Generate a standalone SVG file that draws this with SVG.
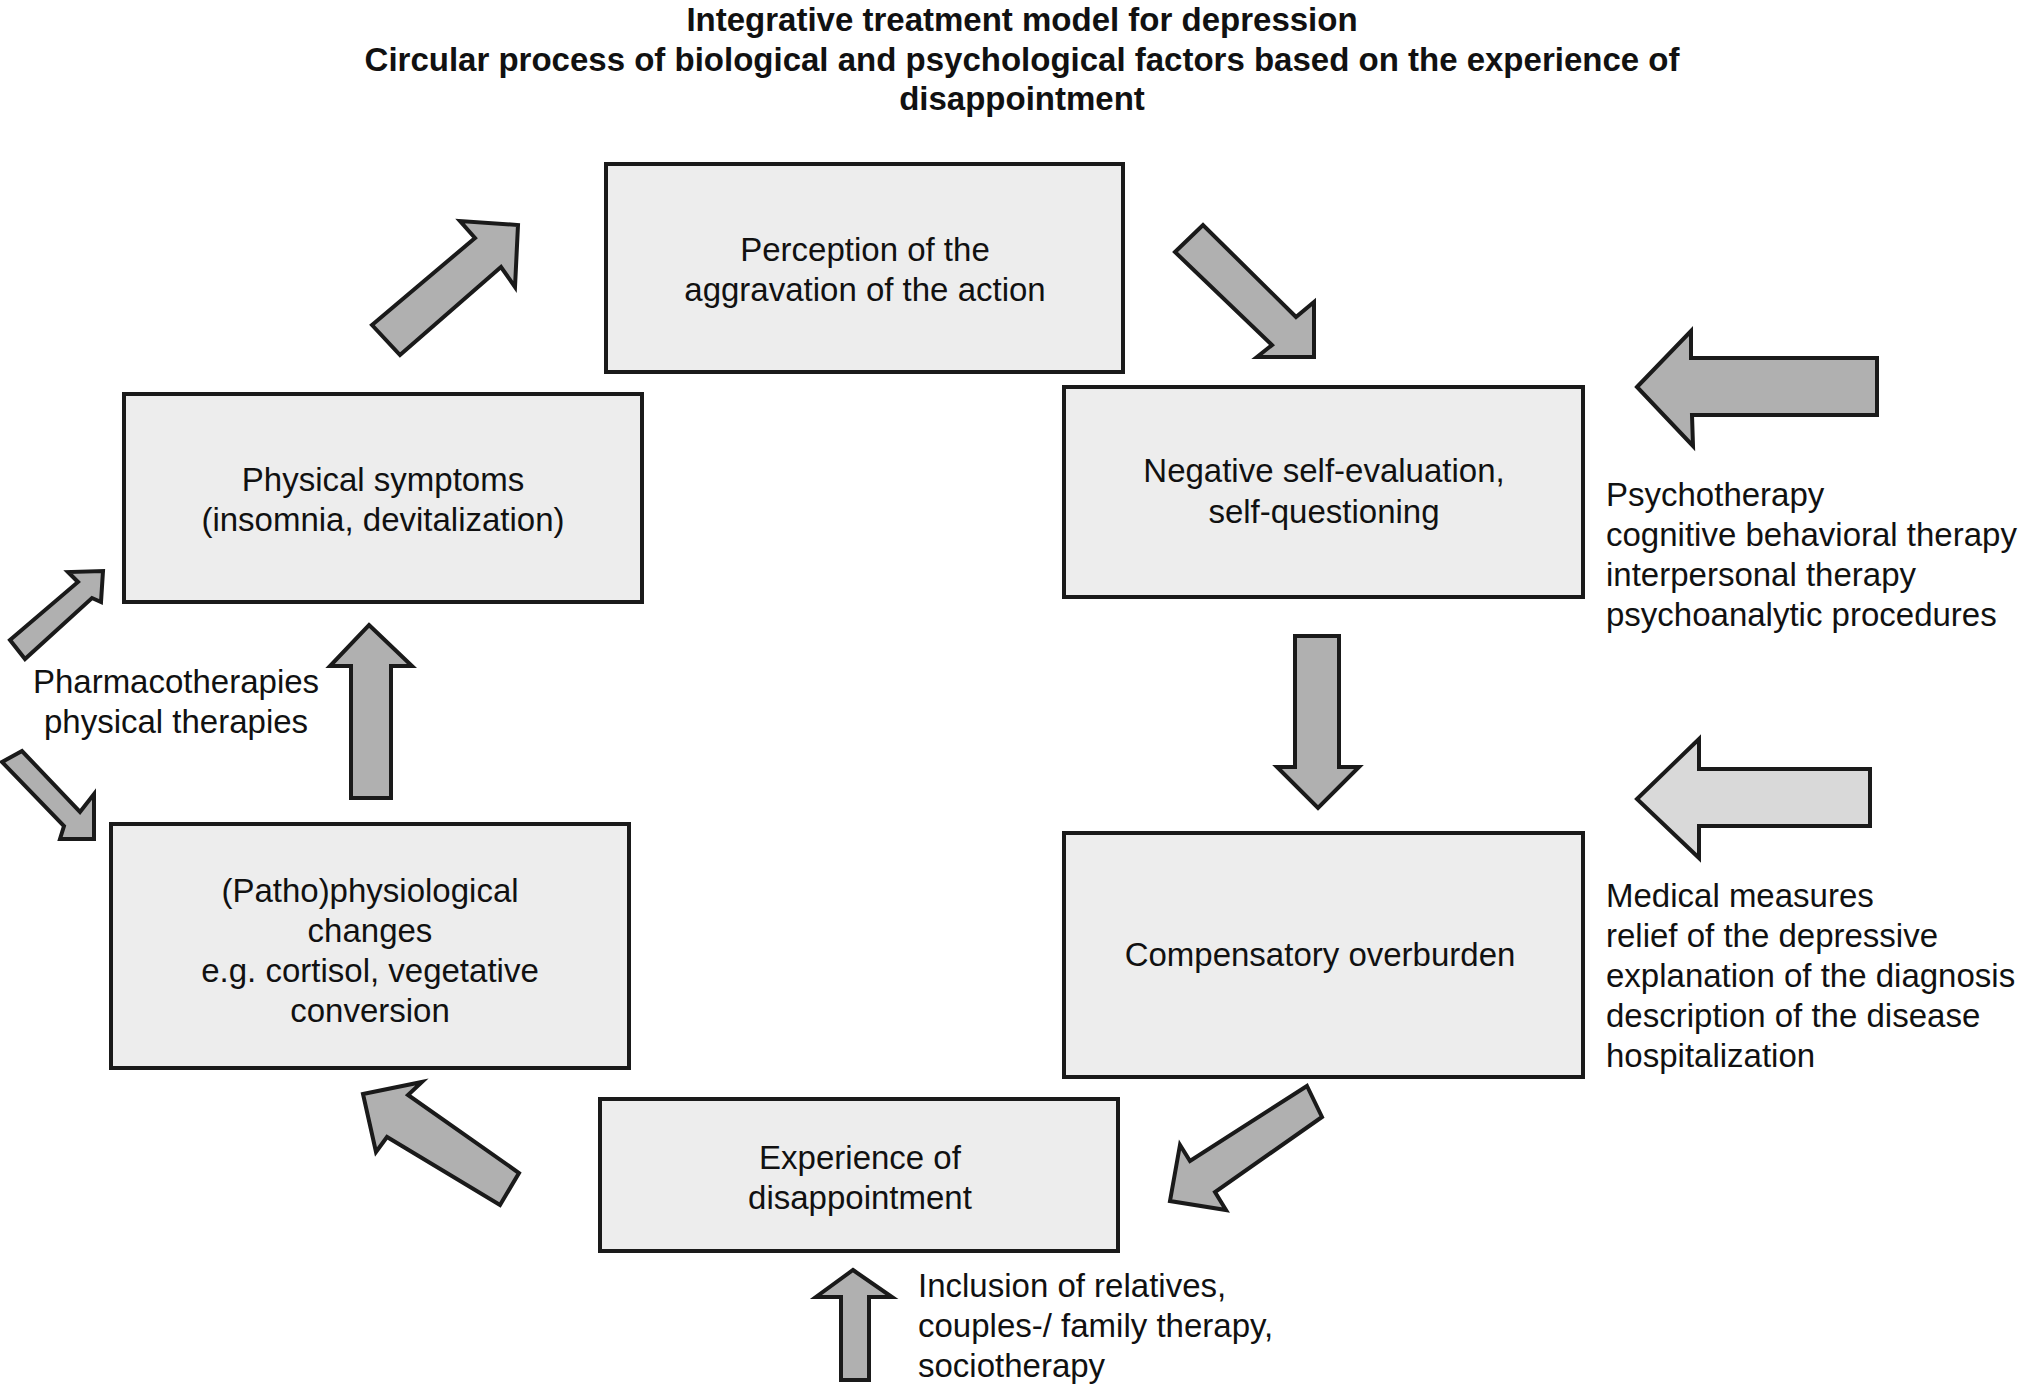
<svg xmlns="http://www.w3.org/2000/svg" width="2021" height="1384" viewBox="0 0 2021 1384">
<style>
.bg{fill:#ffffff}
.box{fill:#ededed;stroke:#1a1a1a;stroke-width:4}
.arr{fill:#b0b0b0;stroke:#1a1a1a;stroke-width:4;stroke-linejoin:miter}
.arrl{fill:#d9d9d9;stroke:#1a1a1a;stroke-width:4;stroke-linejoin:miter}
.t{font-family:"Liberation Sans",Arial,sans-serif;font-size:33px;fill:#111111}
.c{text-anchor:middle}
.title{font-family:"Liberation Sans",Arial,sans-serif;font-size:33px;font-weight:bold;fill:#111111;text-anchor:middle}
</style>
<rect class="bg" x="0" y="0" width="2021" height="1384"/>
<g id="title">
<text class="title" x="1022" y="31">Integrative treatment model for depression</text>
<text class="title" x="1022" y="71">Circular process of biological and psychological factors based on the experience of</text>
<text class="title" x="1022" y="110">disappointment</text>
</g>
<g id="connectors">
<polygon class="arr" points="372,325 475,238 460,221 518,225 515,287 501,267 400,355"/>
<polygon class="arr" points="1175,252 1203,225 1296,317 1314,302 1314,357 1257,357 1272,345"/>
<polygon class="arr" points="1295,636 1339,636 1339,767 1359,767 1318,808 1277,767 1295,767"/>
<polygon class="arr" points="1307,1086 1322,1117 1215,1192 1226,1210 1170,1201 1180,1145 1190,1161"/>
<polygon class="arr" points="363,1094 422,1082 408,1095 519,1173 500,1205 387,1137 376,1152"/>
<polygon class="arr" points="369,625 412,666 391,666 391,798 351,798 351,666 330,666"/>
<polygon class="arr" points="10,640 78,582 68,572 103,571 101,602 92,598 25,659"/>
<polygon class="arr" points="2,762 22,751 80,812 94,794 94,839 60,839 64,826"/>
<polygon class="arr" points="1637,387 1691,331 1691,358 1877,358 1877,415 1692,415 1693,446"/>
<polygon class="arrl" points="1637,799 1699,739 1699,769 1870,769 1870,826 1699,826 1699,858"/>
<polygon class="arr" points="853,1270 892,1297 869,1297 869,1380 841,1380 841,1297 816,1297"/>
</g>
<g id="node-perception">
<rect class="box" x="606" y="164" width="517" height="208"/>
<text class="t c" x="865" y="261">Perception of the</text>
<text class="t c" x="865" y="301">aggravation of the action</text>
</g>
<g id="node-negative">
<rect class="box" x="1064" y="387" width="519" height="210"/>
<text class="t c" x="1324" y="482">Negative self-evaluation,</text>
<text class="t c" x="1324" y="523">self-questioning</text>
</g>
<g id="node-physical">
<rect class="box" x="124" y="394" width="518" height="208"/>
<text class="t c" x="383" y="491">Physical symptoms</text>
<text class="t c" x="383" y="531">(insomnia, devitalization)</text>
</g>
<g id="node-patho">
<rect class="box" x="111" y="824" width="518" height="244"/>
<text class="t c" x="370" y="902">(Patho)physiological</text>
<text class="t c" x="370" y="942">changes</text>
<text class="t c" x="370" y="982">e.g. cortisol, vegetative</text>
<text class="t c" x="370" y="1022">conversion</text>
</g>
<g id="node-compensatory">
<rect class="box" x="1064" y="833" width="519" height="244"/>
<text class="t c" x="1320" y="966">Compensatory overburden</text>
</g>
<g id="node-experience">
<rect class="box" x="600" y="1099" width="518" height="152"/>
<text class="t c" x="860" y="1169">Experience of</text>
<text class="t c" x="860" y="1209">disappointment</text>
</g>
<g id="label-psychotherapy">
<text class="t" x="1606" y="506">Psychotherapy</text>
<text class="t" x="1606" y="546">cognitive behavioral therapy</text>
<text class="t" x="1606" y="586">interpersonal therapy</text>
<text class="t" x="1606" y="626">psychoanalytic procedures</text>
</g>
<g id="label-medical">
<text class="t" x="1606" y="907">Medical measures</text>
<text class="t" x="1606" y="947">relief of the depressive</text>
<text class="t" x="1606" y="987">explanation of the diagnosis</text>
<text class="t" x="1606" y="1027">description of the disease</text>
<text class="t" x="1606" y="1067">hospitalization</text>
</g>
<g id="label-pharma">
<text class="t c" x="176" y="693">Pharmacotherapies</text>
<text class="t c" x="176" y="733">physical therapies</text>
</g>
<g id="label-inclusion">
<text class="t" x="918" y="1297">Inclusion of relatives,</text>
<text class="t" x="918" y="1337">couples-/ family therapy,</text>
<text class="t" x="918" y="1377">sociotherapy</text>
</g>
</svg>
